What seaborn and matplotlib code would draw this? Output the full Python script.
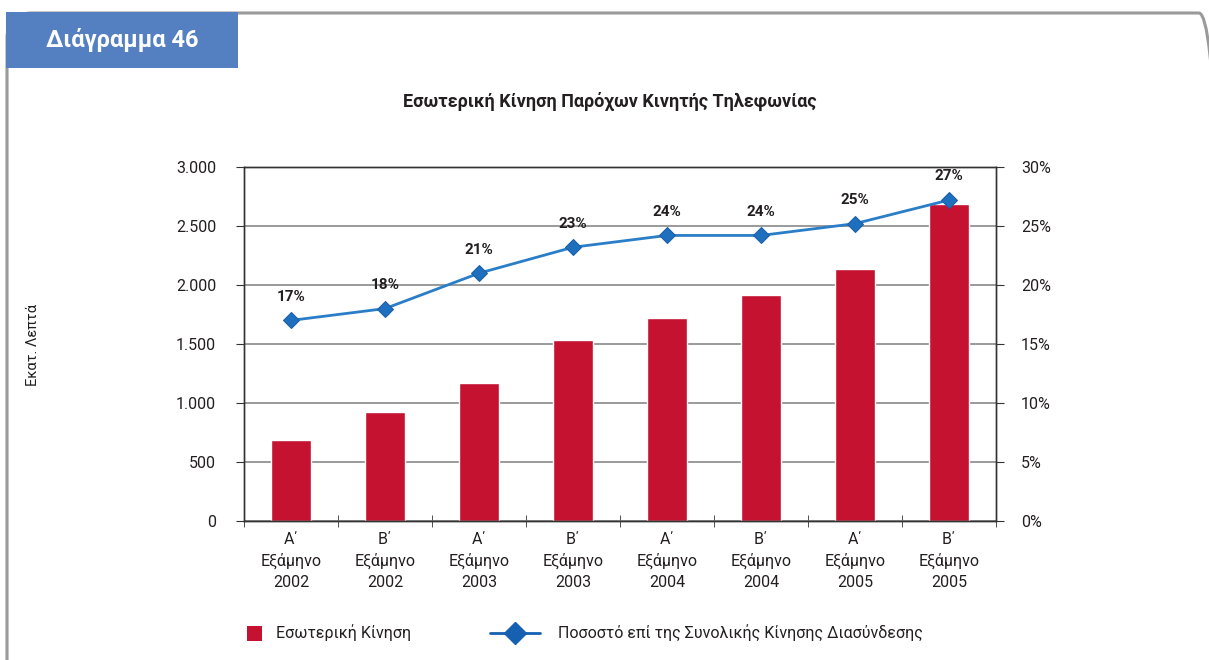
import matplotlib.pyplot as plt
import seaborn as sns
import numpy as np
import pandas as pd
from matplotlib.patches import FancyBboxPatch, Rectangle
from matplotlib.lines import Line2D

# data
halves = ["Α΄", "Β΄", "Α΄", "Β΄", "Α΄", "Β΄", "Α΄", "Β΄"]
years = ["2002", "2002", "2003", "2003", "2004", "2004", "2005", "2005"]
minutes = [690, 925, 1170, 1535, 1720, 1915, 2135, 2685]
share = [17.0, 18.0, 21.0, 23.2, 24.2, 24.2, 25.2, 27.2]
share_labels = ["17%", "18%", "21%", "23%", "24%", "24%", "25%", "27%"]

sns.set_style("white")
plt.rcParams["font.family"] = ["Roboto", "DejaVu Sans"]

bar_color = "#C41230"
line_color = "#2A7EC8"
marker_color = "#1F6FBF"
txt = "#231F20"

labels = [f"{h}\nΕξάμηνο\n{y}" for h, y in zip(halves, years)]
df = pd.DataFrame({"period": labels, "minutes": minutes, "share": share})

W, H = 1209, 660
fig = plt.figure(figsize=(W / 100, H / 100), dpi=100)

# frame (in inches, so the rounding stays circular) and header box
px = 1 / 100
frame = FancyBboxPatch((7 * px, -40 * px), (1224 - 7) * px, (H - 13 + 40) * px,
                       boxstyle="round,pad=0,rounding_size=0.25",
                       transform=fig.dpi_scale_trans, fill=False,
                       edgecolor="#9A9A9A", linewidth=2.2, zorder=0)
fig.add_artist(frame)
fig.add_artist(Rectangle((6 / W, 1 - 68 / H), 232 / W, 56 / H,
                         transform=fig.transFigure, facecolor="#5480C1",
                         edgecolor="none", zorder=1))
fig.text(122 / W, 1 - 40 / H, "Διάγραμμα 46", color="white", fontsize=17,
         fontweight="bold", ha="center", va="center")

ax = fig.add_axes([244 / W, 1 - 521 / H, 752 / W, 354 / H])
sns.barplot(data=df, x="period", y="minutes", color=bar_color, width=0.43,
            saturation=1, ax=ax, zorder=2)
ax.set_ylim(0, 3000)
ax.set_xlim(-0.5, len(labels) - 0.5)
ax.set_yticks(np.arange(0, 3001, 500))
ax.set_yticklabels([f"{v:,}".replace(",", ".") for v in range(0, 3001, 500)])
ax.yaxis.grid(True, color="#7F7F7F", linewidth=1.1, zorder=0)
ax.set_axisbelow(True)
ax.set_xlabel("")
ax.set_ylabel("")
for s in ax.spines.values():
    s.set_color("#333333")
    s.set_linewidth(1.0)
ax.tick_params(axis="y", direction="out", length=6, color="#333333",
               labelsize=11.5, labelcolor=txt, pad=14, left=True)
ax.tick_params(axis="x", which="major", length=0, labelsize=11.5,
               labelcolor=txt, pad=8)
ax.set_xticks(np.arange(-0.5, len(labels)), minor=True)
ax.tick_params(axis="x", which="minor", direction="inout", length=8,
               color="#333333", bottom=True)
for t in ax.get_xticklabels():
    t.set_linespacing(1.45)

ax2 = ax.twinx()
sns.lineplot(x=np.arange(len(share)), y=share, color=line_color, linewidth=2,
             marker="D", markersize=8, markerfacecolor=marker_color,
             markeredgecolor="#1A5FA8", ax=ax2, zorder=3)
ax2.set_ylim(0, 30)
ax2.set_xlim(-0.5, len(labels) - 0.5)
ax2.set_yticks(np.arange(0, 31, 5))
ax2.set_yticklabels([f"{v}%" for v in range(0, 31, 5)])
ax2.tick_params(axis="y", direction="out", length=6, color="#333333",
                labelsize=11.5, labelcolor=txt, pad=12, right=True)
for s in ax2.spines.values():
    s.set_color("#333333")
    s.set_linewidth(1.0)
for i, (v, lab) in enumerate(zip(share, share_labels)):
    ax2.annotate(lab, (i, v), xytext=(0, 12), textcoords="offset points",
                 ha="center", va="bottom", fontsize=11, fontweight="bold",
                 color=txt)

fig.text(610 / W, 1 - 101 / H,
         "Εσωτερική Κίνηση Παρόχων Κινητής Τηλεφωνίας",
         ha="center", va="center", fontsize=13, fontweight="bold", color=txt)
fig.text(33 / W, 1 - 345 / H, "Εκατ. Λεπτά", rotation=90, ha="center",
         va="center", fontsize=10.5, color=txt)

# legend drawn by hand at the bottom
fig.add_artist(Rectangle((247 / W, 1 - 641 / H), 15 / W, 15 / H,
                         transform=fig.transFigure, facecolor=bar_color,
                         edgecolor="none"))
fig.text(276 / W, 1 - 633 / H, "Εσωτερική Κίνηση", ha="left", va="center",
         fontsize=11.5, color=txt)
fig.add_artist(Line2D([490 / W, 540 / W], [1 - 633 / H, 1 - 633 / H],
                      transform=fig.transFigure, color="#1560B0", linewidth=2))
fig.add_artist(Line2D([515 / W], [1 - 633 / H], transform=fig.transFigure,
                      marker="D", markersize=11, color="#1560B0"))
fig.text(558 / W, 1 - 633 / H, "Ποσοστό επί της Συνολικής Κίνησης Διασύνδεσης",
         ha="left", va="center", fontsize=11.5, color=txt)

fig.savefig("out.png", dpi=100)
